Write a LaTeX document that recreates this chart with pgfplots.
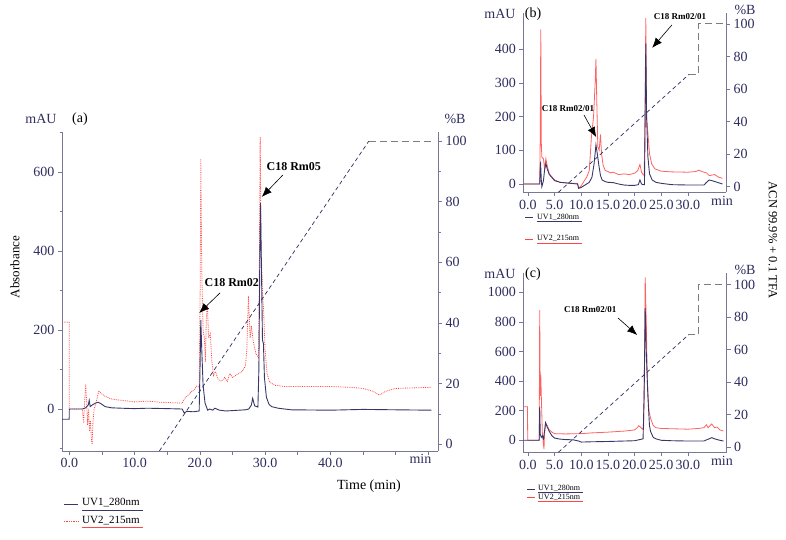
\documentclass[border=0pt]{standalone}
\usepackage{pgfplots}
\pgfplotsset{compat=1.18}
\usepackage{fontspec}
\setmainfont{Liberation Serif}
\usetikzlibrary{arrows.meta}

\definecolor{navy}{RGB}{45,45,95}
\definecolor{uvone}{RGB}{55,55,105}
\definecolor{uvtwo}{RGB}{255,70,70}
\definecolor{axgray}{RGB}{120,120,150}
\definecolor{gradgray}{RGB}{125,125,125}

\pgfplotsset{
  chrom/.style={
    scale only axis,
    axis line style={axgray, line width=0.8pt},
    tick style={axgray, line width=0.6pt},
    tick align=outside,
    major tick length=4pt, minor tick length=2.5pt,
    tick label style={navy, font=\fontsize{14}{16}\selectfont},
    /pgf/number format/assume math mode=true,
    /pgf/number format/1000 sep={},
  },
  uvleft/.style={chrom, axis x line*=bottom, axis y line*=left},
  uvright/.style={chrom, axis x line=none, axis y line*=right},
}
\tikzset{
  trace1/.style={uvone, line width=0.9pt},
  trace2dot/.style={uvtwo, line width=0.8pt, densely dotted},
  trace2/.style={uvtwo!85, line width=0.8pt},
  gradslope/.style={navy, line width=0.7pt, dash pattern=on 4pt off 3pt},
  gradflat/.style={gradgray, line width=0.9pt, dash pattern=on 7pt off 4pt},
  note/.style={font=\bfseries\fontsize{12}{14}\selectfont},
  notesmall/.style={font=\bfseries\fontsize{9}{11}\selectfont},
  notearrow/.style={-{Latex[length=10pt,width=8pt]}, line width=0.6pt},
}

\begin{document}
\begin{tikzpicture}[x=1pt,y=1pt]
\path[use as bounding box] (0,0) rectangle (786,540);

% ---------------- panel (a) ----------------
\begin{axis}[uvleft, at={(62pt,89pt)}, anchor=south west, width=376pt, height=319pt,
  xmin=-1.12, xmax=56.5, ymin=-106.3, ymax=701.3,
  xtick={0,5,...,55}, xticklabels={0.0,,10.0,,20.0,,30.0,,40.0,,,},
  extra x ticks={53.8}, extra x tick labels={min},
  extra x tick style={major tick length=0pt},
  ytick={0,200,400,600}, minor ytick={-100,100,300,500,700}]
\addplot[trace2dot] coordinates {
(-1.12,220) (-0.02,220) (0,0) (2.0,0) (2.2,-35) (2.35,20) (2.5,63) (2.65,20)
(2.8,-40) (2.95,0) (3.1,-55) (3.25,-30) (3.4,-80) (3.5,-89) (3.6,-40) (3.8,0)
(4.1,15) (4.5,46) (5.0,38) (5.5,32) (6.5,25) (8,22) (10,18) (12,20) (14,17)
(17.3,15) (17.6,25) (18,32) (18.4,38) (18.8,45) (19.2,50) (19.5,58) (19.9,55)
(20.05,300) (20.15,633) (20.3,350) (20.5,200) (20.7,180) (20.85,120) (21.0,230)
(21.15,265) (21.35,180) (21.6,190) (21.85,120) (22.1,85) (22.4,95) (22.8,75)
(23.3,70) (23.8,80) (24.2,70) (24.6,90) (25,80) (25.5,85) (26,90) (26.5,95)
(27.0,110) (27.2,150) (27.45,286) (27.7,180) (27.9,210) (28.2,170) (28.6,140)
(29.0,130) (29.1,300) (29.25,689) (29.4,400) (29.6,300) (29.8,240) (30.0,150)
(30.3,90) (30.7,68) (31.5,60) (33,57) (36,57) (40,57) (43,55) (45,52) (46.5,45)
(47.5,35) (48.5,45) (50,52) (55.5,55)};
\addplot[trace1] coordinates {
(-1.12,-26) (-0.02,-26) (0,0) (2.0,0) (2.5,3) (2.9,10) (3.05,22) (3.2,6) (3.5,10)
(4.0,15) (4.4,17) (4.8,14) (5.5,6) (6.5,3) (8,2) (10,1) (12,2) (15,1) (17.3,0)
(17.6,-10) (18,-6) (19,-7) (19.9,-5) (20.05,120) (20.15,225) (20.3,150) (20.5,60)
(20.8,15) (21.2,-3) (21.5,0) (22,-3) (22.3,2) (23,-3) (24,-5) (25,-4) (26,-3)
(27,-2) (27.5,0) (27.9,10) (28.1,27) (28.4,8) (28.9,5) (29.05,100) (29.2,400)
(29.3,521) (29.45,350) (29.6,175) (29.75,165) (29.9,80) (30.2,30) (30.6,12)
(31,6) (32,2) (34,-2) (40,-3) (45,-1) (50,-2) (55.5,-3)};
\node[note] at (axis cs:24.9,321) {C18 Rm02};
\draw[notearrow] (axis cs:23.1,294) -- (axis cs:19.9,243);
\node[note] at (axis cs:34.4,615) {C18 Rm05};
\draw[notearrow] (axis cs:32.7,592) -- (axis cs:29.5,537);
\end{axis}
\begin{axis}[uvright, at={(62pt,89pt)}, anchor=south west, width=376pt, height=319pt,
  xmin=-1.12, xmax=56.5, ymin=-2.2, ymax=103.0,
  ytick={0,20,...,100}, minor ytick={10,30,...,90}]
\addplot[gradslope] coordinates {(13.8,-2.2) (45.9,100)};
\addplot[gradflat] coordinates {(45.9,100) (55.5,100)};
\end{axis}

% ---------------- panel (b) ----------------
\begin{axis}[uvleft, at={(523.3pt,347.7pt)}, anchor=south west, width=202.7pt, height=179.6pt,
  xmin=-0.88, xmax=37.15, ymin=-24.6, ymax=508.3,
  xtick={0,5,...,30}, xticklabels={0.0,5.0,10.0,15.0,20.0,25.0,30.0},
  extra x ticks={36.4}, extra x tick labels={min},
  extra x tick style={major tick length=0pt},
  ytick={0,100,...,400}]
\addplot[trace2] coordinates {
(-0.88,0) (2.2,0) (2.3,150) (2.4,459) (2.5,120) (2.6,80) (2.9,75) (3.1,45)
(3.35,75) (3.6,55) (4,30) (5,12) (6,5) (8,2) (9.3,2) (9.5,-13) (10,-5) (10.5,8)
(11,20) (11.5,40) (11.9,140) (12.3,200) (12.6,300) (12.75,371) (12.9,250)
(13.1,110) (13.35,100) (13.6,147) (13.8,90) (14.1,55) (14.5,40) (15,37)
(15.5,33) (16,35) (17,28) (18,30) (19,28) (20,32) (20.6,40) (21.0,58) (21.3,35)
(21.5,30) (21.8,25) (21.95,200) (22.1,492) (22.25,200) (22.5,150) (22.8,90)
(23.2,60) (23.8,45) (25,38) (27,36) (30,35) (31.5,37) (32,41) (33,35) (33.5,33)
(34,25) (35,28) (35.8,20) (36.5,17)};
\addplot[trace1] coordinates {
(-0.88,0) (2.2,0) (2.35,66) (2.5,10) (2.6,-8) (2.9,10) (3.1,40) (3.35,61)
(3.6,45) (4,28) (5,10) (6,5) (8,2) (9.3,0) (9.5,-13) (10,-10) (11,0) (11.5,5)
(12,20) (12.4,60) (12.75,116) (13.0,90) (13.3,55) (13.6,25) (13.9,12) (14.5,7)
(15,5) (16,4) (17,0) (18,-3) (19,-4) (20,-4) (20.7,-2) (21.0,12) (21.3,0)
(21.6,-2) (21.85,-2) (21.95,150) (22.1,417) (22.25,200) (22.5,80) (22.8,30)
(23.3,12) (24,5) (25,2) (27,-2) (30,-3) (33,-3) (33.5,5) (34,12) (34.5,10)
(35.5,5) (36.5,0)};
\node[notesmall] at (axis cs:28.5,498) {C18 Rm02/01};
\draw[notearrow] (axis cs:27.0,472) -- (axis cs:23.3,404);
\node[notesmall] at (axis cs:7.5,225) {C18 Rm02/01};
\draw[notearrow] (axis cs:10.5,205) -- (axis cs:12.8,139);
\end{axis}
\begin{axis}[uvright, at={(523.3pt,347.7pt)}, anchor=south west, width=202.7pt, height=179.6pt,
  xmin=-0.88, xmax=37.15, ymin=-3.44, ymax=106.9,
  ytick={0,20,...,100}]
\addplot[gradslope] coordinates {(5.7,-3.44) (30.2,69)};
\addplot[gradflat] coordinates {(30.2,69) (32.0,69) (32.0,100) (36.6,100)};
\end{axis}

% ---------------- panel (c) ----------------
\begin{axis}[uvleft, at={(523.3pt,87.7pt)}, anchor=south west, width=203.4pt, height=179.6pt,
  xmin=-0.88, xmax=37.3, ymin=-81.1, ymax=1132,
  xtick={0,5,...,30}, xticklabels={0.0,5.0,10.0,15.0,20.0,25.0,30.0},
  extra x ticks={36.4}, extra x tick labels={min},
  extra x tick style={major tick length=0pt},
  ytick={0,200,...,1000}]
\addplot[trace2] coordinates {
(-0.88,227) (-0.1,227) (-0.05,0) (2.1,0) (2.2,880) (2.3,300) (2.4,441) (2.5,300)
(2.7,44) (2.85,-10) (3.0,-60) (3.1,40) (3.3,117) (3.6,100) (4,70) (4.5,55)
(5,45) (7,43) (10,45) (12,50) (15,55) (18,62) (20,70) (20.5,85) (20.8,99)
(21.2,85) (21.5,75) (21.7,90) (21.85,500) (22.0,1101) (22.2,800) (22.4,400)
(22.7,200) (23,150) (23.5,100) (24,85) (25,80) (27,78) (30,75) (32,80) (33,85)
(33.5,105) (33.8,85) (34.5,110) (35,85) (35.5,90) (36,70) (36.7,62)};
\addplot[trace1] coordinates {
(-0.88,0) (2.1,0) (2.2,227) (2.3,40) (2.5,20) (2.7,30) (2.9,10) (3.1,60)
(3.3,119) (3.6,90) (4,60) (4.5,30) (5,15) (6,8) (7,5) (8.5,3) (9.5,-5) (10,-12)
(12,-10) (15,-8) (18,-5) (20,-3) (21,5) (21.6,10) (21.8,300) (22.0,892)
(22.2,600) (22.5,300) (22.8,100) (23,60) (23.5,20) (24,10) (25,0) (27,-3)
(30,-5) (33,-5) (34,10) (34.5,18) (35,10) (36,0) (36.7,-5)};
\node[notesmall] at (axis cs:11.7,880) {C18 Rm02/01};
\draw[notearrow] (axis cs:16.9,826) -- (axis cs:20.5,711);
\end{axis}
\begin{axis}[uvright, at={(523.3pt,87.7pt)}, anchor=south west, width=203.4pt, height=179.6pt,
  xmin=-0.88, xmax=37.3, ymin=-3.07, ymax=107.2,
  ytick={0,20,...,100}]
\addplot[gradslope] coordinates {(5.7,-3.07) (30.1,69)};
\addplot[gradflat] coordinates {(30.1,69) (32.0,69) (32.0,100) (36.6,100)};
\end{axis}

% ---------------- labels ----------------
\begin{scope}[font=\fontsize{14}{16}\selectfont]
\node[navy] at (41,421) {mAU};
\node at (80,421) {(a)};
\node[navy] at (455,421) {\%B};
\node[navy] at (500,526) {mAU};
\node at (533,526) {(b)};
\node[navy] at (745,530) {\%B};
\node[navy] at (500,266) {mAU};
\node at (533,266) {(c)};
\node[navy] at (745,270) {\%B};
\node[rotate=90, font=\fontsize{13}{15}\selectfont] at (15,273) {Absorbance};
\node at (369,54) {Time (min)};
\node[rotate=-90, font=\fontsize{12.5}{15}\selectfont] at (773,300) {ACN 99.9\% + 0.1 TFA};
\end{scope}

% legends
\begin{scope}[font=\fontsize{11}{13}\selectfont]
\draw[trace1, line width=0.7pt] (64,36) -- (78,36);
\node[anchor=west, inner sep=0pt] at (82,37) {UV1\_280nm};
\draw[uvone, line width=0.6pt] (82,30) -- (143,30);
\draw[uvtwo, line width=0.7pt, densely dotted] (64,18.5) -- (78,18.5);
\node[anchor=west, inner sep=0pt] at (82,19.5) {UV2\_215nm};
\draw[uvtwo, line width=0.6pt] (82,12.5) -- (143,12.5);
\end{scope}
\begin{scope}[font=\fontsize{8}{10}\selectfont]
\draw[uvone, line width=0.6pt] (525,322.5) -- (533,322.5);
\node[anchor=west, inner sep=0pt] at (537,323) {UV1\_280nm};
\draw[uvone, line width=0.5pt] (537,318.3) -- (582,318.3);
\draw[uvtwo, line width=0.6pt] (525,301) -- (533,301);
\node[anchor=west, inner sep=0pt] at (537,301.5) {UV2\_215nm};
\draw[uvtwo, line width=0.5pt] (537,296.8) -- (582,296.8);
\draw[uvone, line width=0.6pt] (527,50.7) -- (535,50.7);
\node[anchor=west, inner sep=0pt] at (538,51.2) {UV1\_280nm};
\draw[uvone, line width=0.5pt] (538,47.5) -- (583,47.5);
\draw[uvtwo, line width=0.6pt] (527,42.7) -- (535,42.7);
\node[anchor=west, inner sep=0pt] at (538,43) {UV2\_215nm};
\draw[uvtwo, line width=0.5pt] (538,39) -- (583,39);
\end{scope}
\end{tikzpicture}
\end{document}
